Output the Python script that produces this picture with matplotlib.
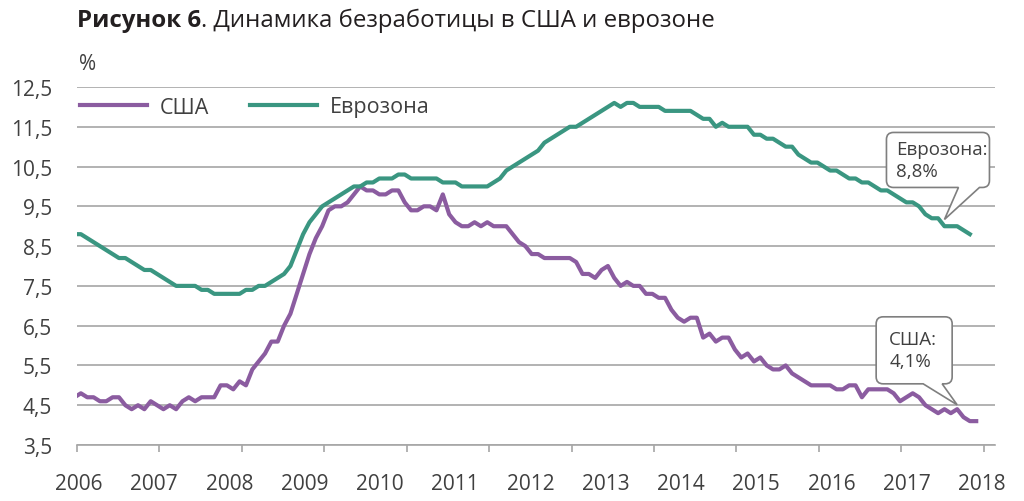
import numpy as np
import matplotlib
matplotlib.use('Agg')
import matplotlib.pyplot as plt
from matplotlib.path import Path
from matplotlib.patches import PathPatch
from matplotlib.transforms import IdentityTransform

plt.rcParams['font.family'] = ['Open Sans', 'DejaVu Sans']

# monthly unemployment, %, USA: Jan 2006 .. Nov 2017
usa = [4.7, 4.8, 4.7, 4.7, 4.6, 4.6, 4.7, 4.7, 4.5, 4.4, 4.5, 4.4,
       4.6, 4.5, 4.4, 4.5, 4.4, 4.6, 4.7, 4.6, 4.7, 4.7, 4.7, 5.0,
       5.0, 4.9, 5.1, 5.0, 5.4, 5.6, 5.8, 6.1, 6.1, 6.5, 6.8, 7.3,
       7.8, 8.3, 8.7, 9.0, 9.4, 9.5, 9.5, 9.6, 9.8, 10.0, 9.9, 9.9,
       9.8, 9.8, 9.9, 9.9, 9.6, 9.4, 9.4, 9.5, 9.5, 9.4, 9.8, 9.3,
       9.1, 9.0, 9.0, 9.1, 9.0, 9.1, 9.0, 9.0, 9.0, 8.8, 8.6, 8.5,
       8.3, 8.3, 8.2, 8.2, 8.2, 8.2, 8.2, 8.1, 7.8, 7.8, 7.7, 7.9,
       8.0, 7.7, 7.5, 7.6, 7.5, 7.5, 7.3, 7.3, 7.2, 7.2, 6.9, 6.7,
       6.6, 6.7, 6.7, 6.2, 6.3, 6.1, 6.2, 6.2, 5.9, 5.7, 5.8, 5.6,
       5.7, 5.5, 5.4, 5.4, 5.5, 5.3, 5.2, 5.1, 5.0, 5.0, 5.0, 5.0,
       4.9, 4.9, 5.0, 5.0, 4.7, 4.9, 4.9, 4.9, 4.9, 4.8, 4.6, 4.7,
       4.8, 4.7, 4.5, 4.4, 4.3, 4.4, 4.3, 4.4, 4.2, 4.1, 4.1]

# euro area: Jan 2006 .. Oct 2017
eurozone = [8.8, 8.8, 8.7, 8.6, 8.5, 8.4, 8.3, 8.2, 8.2, 8.1, 8.0, 7.9,
            7.9, 7.8, 7.7, 7.6, 7.5, 7.5, 7.5, 7.5, 7.4, 7.4, 7.3, 7.3,
            7.3, 7.3, 7.3, 7.4, 7.4, 7.5, 7.5, 7.6, 7.7, 7.8, 8.0, 8.4,
            8.8, 9.1, 9.3, 9.5, 9.6, 9.7, 9.8, 9.9, 10.0, 10.0, 10.1, 10.1,
            10.2, 10.2, 10.2, 10.3, 10.3, 10.2, 10.2, 10.2, 10.2, 10.2, 10.1, 10.1,
            10.1, 10.0, 10.0, 10.0, 10.0, 10.0, 10.1, 10.2, 10.4, 10.5, 10.6, 10.7,
            10.8, 10.9, 11.1, 11.2, 11.3, 11.4, 11.5, 11.5, 11.6, 11.7, 11.8, 11.9,
            12.0, 12.1, 12.0, 12.1, 12.1, 12.0, 12.0, 12.0, 12.0, 11.9, 11.9, 11.9,
            11.9, 11.9, 11.8, 11.7, 11.7, 11.5, 11.6, 11.5, 11.5, 11.5, 11.5, 11.3,
            11.3, 11.2, 11.2, 11.1, 11.0, 11.0, 10.8, 10.7, 10.6, 10.6, 10.5, 10.4,
            10.4, 10.3, 10.2, 10.2, 10.1, 10.1, 10.0, 9.9, 9.9, 9.8, 9.7, 9.6,
            9.6, 9.5, 9.3, 9.2, 9.2, 9.0, 9.0, 9.0, 8.9, 8.8]

years = list(range(2006, 2019))
yticks = [3.5, 4.5, 5.5, 6.5, 7.5, 8.5, 9.5, 10.5, 11.5, 12.5]

PURPLE = '#8b5ca0'
GREEN = '#3a9681'
GRID = '#a6a6a6'
TXT = '#404040'

W, H = 1024, 502
fig = plt.figure(figsize=(W / 100, H / 100), dpi=100)
ax = fig.add_axes([77 / W, 1 - 446 / H, 918 / W, 358 / H])

ax.plot(np.arange(len(usa)), usa, color=PURPLE, lw=3, label='США')
ax.plot(np.arange(len(eurozone)), eurozone, color=GREEN, lw=3, label='Еврозона')

ax.set_xlim(0.39, 144.96)
ax.set_ylim(3.5, 12.5)

ax.set_yticks(yticks)
ax.set_yticklabels([('%.1f' % v).replace('.', ',') for v in yticks])
ax.yaxis.grid(True, color=GRID, lw=1.2)
ax.set_axisbelow(True)
for s in ['top', 'right', 'left']:
    ax.spines[s].set_visible(False)
ax.spines['bottom'].set_color(GRID)
ax.spines['bottom'].set_linewidth(1.2)
ax.tick_params(axis='y', length=0, pad=18, labelsize=15, labelcolor=TXT)

# year labels and tick marks do not line up in the original
ax.set_xticks([0.71 + 11.85 * i for i in range(len(years))])
ax.set_xticklabels([str(y) for y in years])
ax.set_xticks([0.39 + 12.98 * i for i in range(12)], minor=True)
ax.tick_params(axis='x', which='major', length=0, pad=20, labelsize=15, labelcolor=TXT)
ax.tick_params(axis='x', which='minor', length=5, width=1.2, color=GRID, direction='out')

leg = ax.legend(loc='center left', bbox_to_anchor=(80 / W, 1 - 108 / H),
                bbox_transform=fig.transFigure, ncol=2, frameon=False,
                fontsize=15.5, handlelength=3.1, handletextpad=0.6,
                columnspacing=1.9, borderpad=0, borderaxespad=0)
for t in leg.get_texts():
    t.set_color(TXT)

# title
t1 = fig.text(77 / W, 1 - 27 / H, 'Рисунок 6', weight='bold', size=17.3,
              va='baseline', color='#231f20')
fig.canvas.draw()
bb = t1.get_window_extent(fig.canvas.get_renderer())
fig.text(bb.x1 / W, 1 - 27 / H, '. Динамика безработицы в США и еврозоне',
         size=17.3, va='baseline', color='#231f20')
fig.text(79 / W, 1 - 70 / H, '%', size=15, va='baseline', color=TXT)


def callout(tip, box, base, lines, text_off):
    # box = (left, right, top, bottom) in pixels relative to tip, y up
    tx, ty = ax.transData.transform(tip)
    L, R, T, B = tx + box[0], tx + box[1], ty + box[2], ty + box[3]
    b0, b1 = tx + base[0], tx + base[1]
    r = 7
    verts = [(L + r, T), (R - r, T), (R, T), (R, T - r), (R, B + r), (R, B), (R - r, B),
             (b1, B), (tx, ty), (b0, B), (L + r, B), (L, B), (L, B + r), (L, T - r),
             (L, T), (L + r, T), (L + r, T)]
    codes = [Path.MOVETO, Path.LINETO, Path.CURVE3, Path.CURVE3, Path.LINETO, Path.CURVE3,
             Path.CURVE3, Path.LINETO, Path.LINETO, Path.LINETO, Path.LINETO, Path.CURVE3,
             Path.CURVE3, Path.LINETO, Path.CURVE3, Path.CURVE3, Path.CLOSEPOLY]
    p = PathPatch(Path(verts, codes), facecolor='white', edgecolor='#7f7f7f', lw=1.2,
                  zorder=5)
    p.set_transform(IdentityTransform())
    p.set_clip_on(False)
    ax.add_patch(p)
    for i, s in enumerate(lines):
        ax.annotate(s, xy=tip, xytext=(text_off[0], text_off[1] - 22 * i),
                    textcoords='offset pixels', va='center', ha='left',
                    fontsize=13.5, color=TXT, zorder=6, annotation_clip=False)


callout((137.0, 9.17), (-58, 45, 87, 32), (14, 35), ['Еврозона:', '8,8%'], (-48, 70))
callout((139.0, 4.51), (-81, -5, 88, 21), (-34, -15), ['США:', '4,1%'], (-68, 66))

fig.savefig('out.png', dpi=100)
